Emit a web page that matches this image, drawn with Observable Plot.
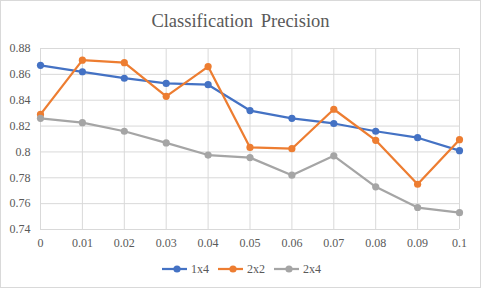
<!DOCTYPE html>
<html>
<head>
<meta charset="utf-8">
<script src="https://cdn.jsdelivr.net/npm/d3@7"></script>
<script src="https://cdn.jsdelivr.net/npm/@observablehq/plot@0.6"></script>
<style>
  html, body { margin: 0; padding: 0; background: #fff; }
  #chart { position: relative; width: 479px; height: 286px; border: 1px solid #d9d9d9; background: #fff; font-family: "Liberation Serif", "Times New Roman", serif; color: #595959; overflow: hidden; }
  #title { height: 35px; line-height: 40px; text-align: center; font-size: 18.5px; word-spacing: 3px; }
  #plot svg, #plot svg text { font-family: "Liberation Serif", "Times New Roman", serif !important; }
  #legend { display: flex; justify-content: center; gap: 9px; font-size: 12px; margin-top: 1px; margin-left: 2px; align-items: center; line-height: 14px; }
  .item { display: flex; align-items: center; gap: 4px; }
</style>
</head>
<body>
<div id="chart">
  <div id="title">Classification Precision</div>
  <div id="plot"></div>
  <div id="legend"></div>
</div>
<script>
const xValues = [0, 0.01, 0.02, 0.03, 0.04, 0.05, 0.06, 0.07, 0.08, 0.09, 0.1];
const series = ["1x4", "2x2", "2x4"];
const values1x4 = [0.867, 0.862, 0.857, 0.853, 0.852, 0.832, 0.826, 0.822, 0.816, 0.811, 0.801];
const values2x2 = [0.829, 0.871, 0.869, 0.843, 0.866, 0.8035, 0.8025, 0.833, 0.809, 0.775, 0.8095];
const values2x4 = [0.826, 0.8226, 0.816, 0.807, 0.7976, 0.7956, 0.782, 0.797, 0.773, 0.757, 0.753];
const colors = ["#4472C4", "#ED7D31", "#A5A5A5"];
const yTicks = [0.74, 0.76, 0.78, 0.8, 0.82, 0.84, 0.86, 0.88];

const allValues = [values1x4, values2x2, values2x4];
const data = [];
series.forEach((s, i) => xValues.forEach((x, j) => data.push({series: s, x, y: allValues[i][j]})));

const fmt = d => String(+d.toFixed(2));
const serif = '"Liberation Serif", "Times New Roman", serif';

const chart = Plot.plot({
  width: 479,
  height: 225,
  marginLeft: 39,
  marginRight: 21,
  marginTop: 12,
  marginBottom: 32,
  style: {fontFamily: serif, fontSize: "12px", color: "#595959", background: "#fff"},
  x: {domain: [0, 0.1]},
  y: {domain: [0.74, 0.88]},
  color: {domain: series, range: colors},
  marks: [
    Plot.gridX(xValues, {stroke: "#d9d9d9", strokeOpacity: 1, strokeWidth: 1}),
    Plot.gridY(yTicks, {stroke: "#d9d9d9", strokeOpacity: 1, strokeWidth: 1}),
    Plot.axisX(xValues, {tickSize: 0, tickPadding: 9, tickFormat: fmt, label: null, fill: "#595959", fontFamily: serif, fontSize: 12}),
    Plot.axisY(yTicks, {tickSize: 0, tickPadding: 10, tickFormat: fmt, label: null, fill: "#595959", fontFamily: serif, fontSize: 12}),
    Plot.line(data, {x: "x", y: "y", z: "series", stroke: "series", strokeWidth: 2.25, strokeLinejoin: "round", strokeLinecap: "round"}),
    Plot.dot(data, {x: "x", y: "y", fill: "series", r: 3.6, stroke: null})
  ]
});
document.getElementById("plot").appendChild(chart);

const legend = document.getElementById("legend");
series.forEach((s, i) => {
  const item = document.createElement("div");
  item.className = "item";
  item.innerHTML = `<svg width="25" height="10"><line x1="0" y1="5" x2="25" y2="5" stroke="${colors[i]}" stroke-width="2.25"/><circle cx="15" cy="5" r="3.6" fill="${colors[i]}"/></svg><span>${s}</span>`;
  legend.appendChild(item);
});
</script>
</body>
</html>
